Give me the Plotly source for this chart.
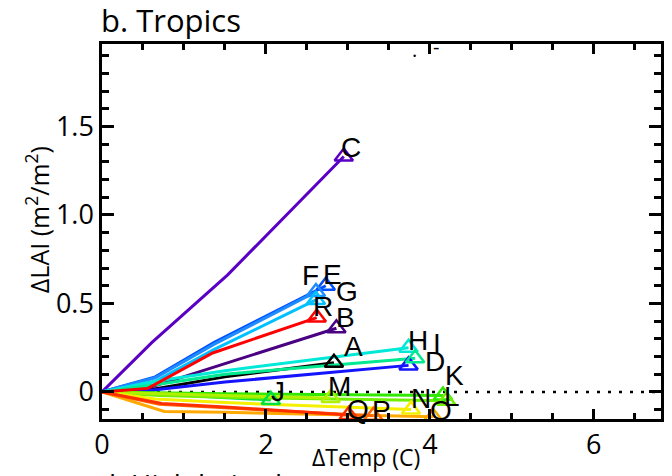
import plotly.graph_objects as go

# ---------------- data ----------------
labels = ["A", "B", "C", "D", "E", "F", "G", "H", "I",
          "J", "K", "L", "M", "N", "O", "P", "Q", "R"]

dtemp = {
    "A": [0, 0.55, 1.50, 2.83],
    "B": [0, 0.55, 1.50, 2.86],
    "C": [0, 0.61, 1.53, 2.95],
    "D": [0, 0.60, 1.50, 3.74],
    "E": [0, 0.65, 1.37, 2.73],
    "F": [0, 0.65, 1.37, 2.61],
    "G": [0, 0.65, 1.37, 2.61],
    "H": [0, 0.65, 1.50, 3.74],
    "I": [0, 0.65, 1.50, 3.82],
    "J": [0, 0.70, 1.40, 2.06],
    "K": [0, 0.70, 1.50, 4.16],
    "L": [0, 0.70, 1.50, 4.20],
    "M": [0, 0.70, 1.50, 2.79],
    "N": [0, 0.65, 1.50, 3.77],
    "O": [0, 0.76, 1.50, 4.04],
    "P": [0, 0.70, 1.50, 3.31],
    "Q": [0, 0.73, 1.50, 3.01],
    "R": [0, 0.56, 1.35, 2.62],
}

dlai = {
    "A": [0, 0.010, 0.085, 0.165],
    "B": [0, 0.020, 0.160, 0.360],
    "C": [0, 0.280, 0.660, 1.330],
    "D": [0, 0.010, 0.056, 0.150],
    "E": [0, 0.085, 0.280, 0.600],
    "F": [0, 0.080, 0.270, 0.565],
    "G": [0, 0.060, 0.240, 0.520],
    "H": [0, 0.060, 0.120, 0.250],
    "I": [0, 0.040, 0.100, 0.190],
    "J": [0, -0.010, -0.030, -0.045],
    "K": [0, -0.005, -0.010, -0.020],
    "L": [0, -0.020, -0.030, -0.050],
    "M": [0, -0.010, -0.020, -0.034],
    "N": [0, -0.040, -0.060, -0.100],
    "O": [0, -0.110, -0.115, -0.140],
    "P": [0, -0.070, -0.090, -0.135],
    "Q": [0, -0.065, -0.085, -0.130],
    "R": [0, 0.020, 0.220, 0.420],
}

x_ticks = [0, 2, 4, 6]
x_ticktext = ["0", "2", "4", "6"]
y_ticks = [0, 0.5, 1.0, 1.5]
y_ticktext = ["0", "0.5", "1.0", "1.5"]

# ---------------- styles ----------------
colors = {
    "A": "#000000", "B": "#4a0082", "C": "#5a00c4", "D": "#1414ff",
    "E": "#0050ff", "F": "#1e8cff", "G": "#00c0ff", "H": "#00e8d8",
    "I": "#00e890", "J": "#00e040", "K": "#30e800", "L": "#70f000",
    "M": "#b0f000", "N": "#f4f000", "O": "#ffa800", "P": "#ff6800",
    "Q": "#ff3000", "R": "#ff0000",
}

# label offsets in pixels (right, up) relative to the end triangle
label_shift = {
    "A": (20, 16), "B": (9, 11), "C": (7, 9), "D": (26, 4),
    "E": (7, 11), "F": (-5, 16), "G": (31, 8), "H": (9, 7),
    "I": (22, 15), "J": (7, 8), "K": (12, 20), "L": (6, 4),
    "M": (9, 11), "N": (10, 11), "O": (8, 6), "P": (8, 5),
    "Q": (9, 5), "R": (6, 11),
}

X_MAX = 6.82
Y_MIN, Y_MAX = -0.153, 1.966

fig = go.Figure()

# dotted zero line
fig.add_trace(go.Scatter(
    x=[0, X_MAX], y=[0, 0], mode="lines",
    line=dict(color="black", width=2.5, dash="3px,8px"),
    hoverinfo="skip", showlegend=False))

for k in labels:
    fig.add_trace(go.Scatter(
        x=dtemp[k], y=dlai[k], mode="lines",
        line=dict(color=colors[k], width=3),
        hoverinfo="skip", showlegend=False))

for k in labels:
    fig.add_trace(go.Scatter(
        x=[dtemp[k][-1]], y=[dlai[k][-1]], mode="markers",
        marker=dict(symbol="triangle-up-open", size=16, color=colors[k],
                    line=dict(width=2.5, color=colors[k])),
        hoverinfo="skip", showlegend=False))

annotations = []
for k in labels:
    dx, dy = label_shift[k]
    annotations.append(dict(
        x=dtemp[k][-1], y=dlai[k][-1], xref="x", yref="y", text=k,
        showarrow=False, xshift=dx, yshift=dy,
        font=dict(family="Liberation Sans", size=28, color="black")))

txtfont = "Open Sans"
annotations += [
    dict(x=-0.006, y=1.063, xref="paper", yref="paper", text="b. Tropics",
         xanchor="left", yanchor="middle", showarrow=False,
         font=dict(family=txtfont, size=31, color="black")),
    dict(x=0.4715, y=-0.101, xref="paper", yref="paper",
         text="ΔTemp (C)", xanchor="center", yanchor="middle",
         showarrow=False, font=dict(family=txtfont, size=23, color="black")),
    dict(x=-0.114, y=0.531, xref="paper", yref="paper",
         text="ΔLAI (m<sup>2</sup>/m<sup>2</sup>)", textangle=-90,
         xanchor="center", yanchor="middle", showarrow=False,
         font=dict(family=txtfont, size=25, color="black")),
    dict(x=-0.009, y=-0.118, xref="paper", yref="paper",
         text="d. High latitudes", xanchor="left", yanchor="top",
         showarrow=False, font=dict(family=txtfont, size=28, color="black")),
    dict(x=0.5587, y=1.027, xref="paper", yref="paper", text=".",
         showarrow=False, font=dict(family=txtfont, size=20, color="black")),
    dict(x=0.598, y=1.035, xref="paper", yref="paper", text="-",
         showarrow=False, font=dict(family=txtfont, size=20, color="black")),
]

fig.update_layout(
    width=672, height=476,
    margin=dict(l=102, r=8, t=44, b=57),
    paper_bgcolor="white", plot_bgcolor="white",
    showlegend=False,
    annotations=annotations,
    xaxis=dict(
        range=[0, X_MAX], tickmode="array", tickvals=x_ticks,
        ticktext=x_ticktext, ticks="inside", ticklen=10, tickwidth=3,
        tickcolor="black",
        minor=dict(tickmode="linear", tick0=0, dtick=0.5, ticks="inside",
                   ticklen=6, tickwidth=3, tickcolor="black",
                   showgrid=False),
        showline=True, linewidth=2.5, linecolor="black", mirror="ticks",
        showgrid=False, zeroline=False,
        tickfont=dict(family=txtfont, size=27, color="black")),
    yaxis=dict(
        range=[Y_MIN, Y_MAX], tickmode="array", tickvals=y_ticks,
        ticktext=y_ticktext, ticks="inside", ticklen=12, tickwidth=3,
        tickcolor="black",
        minor=dict(tickmode="linear", tick0=0, dtick=0.1, ticks="inside",
                   ticklen=7, tickwidth=3, tickcolor="black",
                   showgrid=False),
        showline=True, linewidth=2.5, linecolor="black", mirror="ticks",
        showgrid=False, zeroline=False,
        tickfont=dict(family=txtfont, size=27, color="black")),
)

fig.write_html("out.html")
